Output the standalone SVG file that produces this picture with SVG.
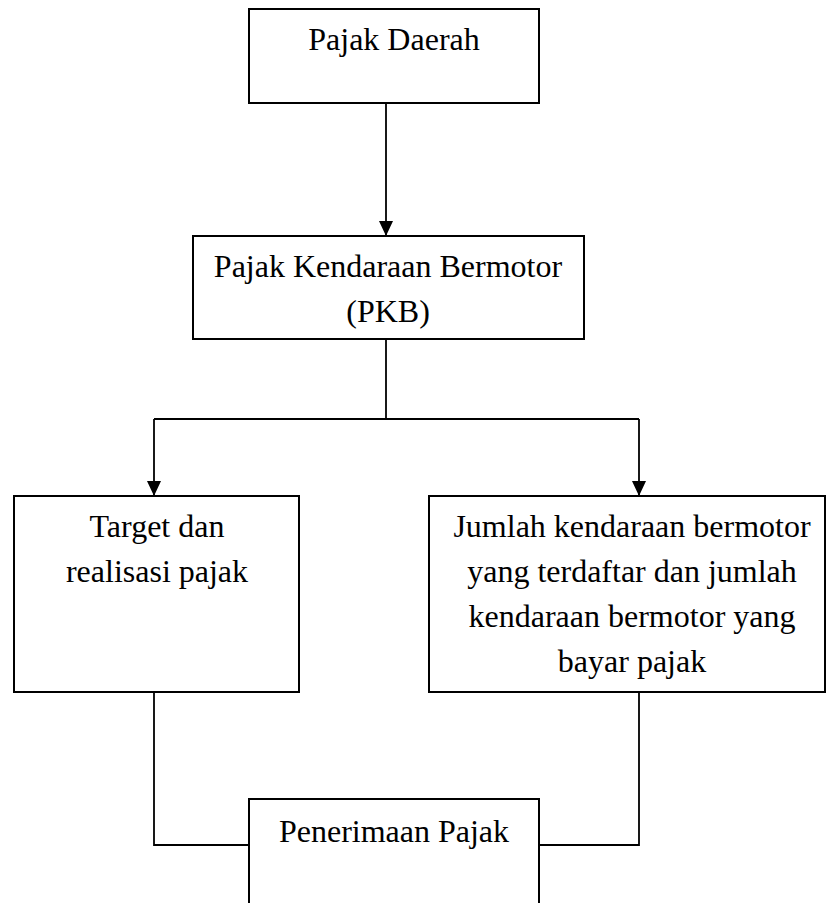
<svg xmlns="http://www.w3.org/2000/svg" width="826" height="903" viewBox="0 0 826 903">
<style>
.box{fill:#fff;stroke:#000;stroke-width:2}
.t{font-family:"Liberation Serif","Times New Roman",serif;font-size:32px;fill:#000;text-anchor:middle}
.c{fill:none;stroke:#000;stroke-width:1.8}
</style>
<defs>
<marker id="ah" markerUnits="userSpaceOnUse" markerWidth="15" markerHeight="14" refX="15" refY="7" orient="auto">
<path d="M0,0 L15,7 L0,14 z" fill="#000"/>
</marker>
</defs>
<rect width="826" height="903" fill="#fff"/>
<g id="connectors">
<line class="c" x1="386" y1="103" x2="386" y2="236" marker-end="url(#ah)"/>
<polyline class="c" points="386,339 386,419"/>
<polyline class="c" points="154,419 639,419"/>
<line class="c" x1="154" y1="419" x2="154" y2="496" marker-end="url(#ah)"/>
<line class="c" x1="639" y1="419" x2="639" y2="496" marker-end="url(#ah)"/>
<polyline class="c" points="154,692 154,845 249,845"/>
<polyline class="c" points="639,692 639,845 539,845"/>
</g>
<g id="pajak-daerah">
<rect class="box" x="249" y="9" width="290" height="94"/>
<text class="t" x="394" y="50">Pajak Daerah</text>
</g>
<g id="pkb">
<rect class="box" x="193" y="236" width="391" height="103"/>
<text class="t" x="388" y="277">Pajak Kendaraan Bermotor</text>
<text class="t" x="388" y="322">(PKB)</text>
</g>
<g id="target">
<rect class="box" x="14" y="496" width="285" height="196"/>
<text class="t" x="157" y="537">Target dan</text>
<text class="t" x="157" y="582">realisasi pajak</text>
</g>
<g id="jumlah">
<rect class="box" x="429" y="496" width="396" height="196"/>
<text class="t" x="632" y="537">Jumlah kendaraan bermotor</text>
<text class="t" x="632" y="582">yang terdaftar dan jumlah</text>
<text class="t" x="632" y="627">kendaraan bermotor yang</text>
<text class="t" x="632" y="672">bayar pajak</text>
</g>
<g id="penerimaan">
<rect class="box" x="249" y="799" width="290" height="120"/>
<text class="t" x="394" y="842">Penerimaan Pajak</text>
</g>
</svg>
